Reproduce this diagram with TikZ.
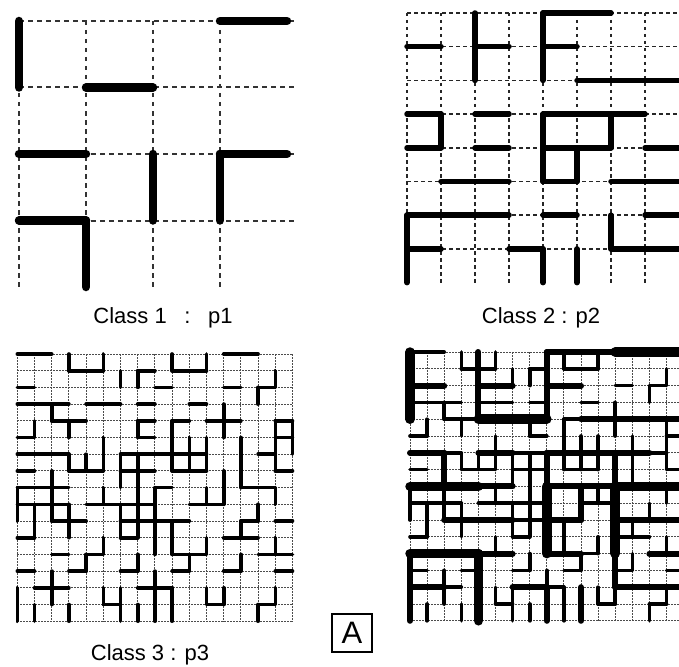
\documentclass[tikz,border=0pt]{standalone}
\usepackage{fontspec}
\setmainfont{Liberation Sans}
\begin{document}
\begin{tikzpicture}[x=1pt,y=-1pt]
\tikzset{
 g1/.style={line width=2pt, dash pattern=on 4.5pt off 4.5pt, black!80},
 g2/.style={line width=1.6pt, dash pattern=on 3.5pt off 3.5pt, black!85},
 g3/.style={line width=1pt, dash pattern=on 1.5pt off 1.5pt, black!70},
 s1/.style={line width=8.5pt, line cap=round},
 s2/.style={line width=5.5pt, line cap=round},
 s3/.style={line width=3.6pt, line cap=round},
 s1b/.style={line width=9.5pt, line cap=round},
 s2b/.style={line width=6pt, line cap=round},
 lab/.style={font=\fontsize{22}{25}\selectfont, anchor=base, inner sep=0pt},
}
\def\pone{0/0/0/1, 3/0/4/0, 1/1/2/1, 0/2/1/2, 2/2/2/3, 3/3/3/2, 3/2/4/2, 0/3/1/3, 1/3/1/4}
\def\ptwo{0/1/1/1, 2/0/2/2, 2/1/3/1, 0/3/1/3, 1/3/1/4, 0/4/1/4, 2/3/3/3, 2/4/3/4,
 4/0/4/2, 4/0/6/0, 4/1/5/1, 5/2/8/2, 4/3/7/3, 4/3/4/5, 6/3/6/4, 4/4/6/4, 5/4/5/5, 4/5/5/5,
 7/4/8/4, 1/5/3/5, 6/5/8/5, 0/6/3/6, 0/6/0/8, 0/7/1/7, 4/6/5/6, 6/6/6/7, 6/7/8/7, 7/6/8/6,
 3/7/4/7, 4/7/4/8, 5/7/5/8}
\def\pthree{0/0/2/0, 3/0/3/1, 3/1/5/1, 5/0/5/1,
 6/1/6/2, 7/1/7/2, 7/1/8/1,
 0/2/1/2, 8/2/9/2,
 0/3/3/3, 2/3/2/4, 2/4/4/4, 3/4/3/5,
 4/3/6/3, 7/3/8/3,
 1/4/1/5, 0/5/1/5,
 7/4/7/5, 7/4/8/4, 7/5/8/5,
 5/5/5/7,
 0/6/3/6, 3/6/3/7, 4/6/4/7, 3/7/5/7,
 6/6/8/6, 6/6/6/8, 7/6/7/8, 6/7/8/7,
 0/7/1/7, 2/7/2/8,
 0/8/3/8,
 9/0/9/1, 9/1/11/1, 11/0/11/1,
 12/0/14/0,
 15/1/15/2, 14/2/15/2, 14/2/14/3,
 12/2/13/2, 10/3/11/3,
 12/3/12/5, 11/4/13/4,
 9/4/10/4, 9/4/9/7, 10/5/10/7, 11/5/11/7, 8/6/11/6, 9/7/11/7,
 15/4/15/6, 16/4/16/6, 15/4/16/4, 15/5/16/5, 15/6/15/7, 15/7/16/7, 14/6/15/6,
 13/5/13/8, 13/8/15/8,
 12/7/12/8, 8/8/9/8,
 0/8/0/10, 0/9/3/9, 1/9/1/11, 2/8/2/10, 3/9/3/11, 2/10/4/10, 0/11/1/11,
 4/9/8/9, 5/8/5/9, 6/9/6/11, 7/8/7/11, 6/10/8/10, 6/11/7/11,
 5/11/5/12, 4/12/5/12, 4/12/4/13, 2/12/3/12, 0/13/1/13, 3/13/4/13,
 7/12/7/13, 6/13/7/13,
 0/14/0/16, 1/14/3/14, 2/13/2/15, 1/15/1/16, 3/15/3/16,
 5/14/5/15, 5/15/6/15, 6/14/6/16, 7/15/7/16, 7/14/8/14, 8/13/8/16,
 8/8/8/12,
 11/8/11/9, 10/9/12/9, 12/8/12/9,
 15/8/15/9,
 14/9/14/10, 13/10/14/10, 13/10/13/11, 12/11/14/11,
 8/10/10/10, 15/10/16/10,
 9/10/9/12, 11/11/11/12, 9/12/11/12, 10/12/10/13, 9/13/10/13,
 13/12/13/13, 12/13/13/13,
 14/12/16/12, 15/11/15/12, 15/13/16/13,
 9/14/9/16, 8/14/9/14,
 11/14/11/15, 11/15/12/15, 12/14/12/15,
 14/15/14/16, 14/15/15/15, 15/14/15/15}
\useasboundingbox (0,0) rectangle (679,666);
\clip (0,0) rectangle (679,666);
% Panel 1
\begin{scope}[shift={(19,21)}, xscale=67, yscale=66.5]
 \foreach \i in {0,...,3} {\draw[g1] (\i,0) -- (\i,4); \draw[g1] (0,\i) -- (4.1,\i);}
 \foreach \a/\b/\c/\d in \pone {\draw[s1] (\a,\b) -- (\c,\d);}
\end{scope}
% Panel 2
\begin{scope}[shift={(407,13)}, xscale=34, yscale=33.7]
 \foreach \i in {0,...,7} {\draw[g2] (\i,0) -- (\i,8.05); \draw[g2] (0,\i) -- (8.2,\i);}
 \foreach \a/\b/\c/\d in \ptwo {\draw[s2] (\a,\b) -- (\c,\d);}
\end{scope}
% Panel 3
\begin{scope}[shift={(17.3,354)}, xscale=17.2, yscale=16.7]
 \foreach \i in {0,...,16} {\draw[g3] (\i,0) -- (\i,16); \draw[g3] (0,\i) -- (16,\i);}
 \foreach \a/\b/\c/\d in \pthree {\draw[s3] (\a,\b) -- (\c,\d);}
\end{scope}
% Panel 4 (superposition)
\begin{scope}[shift={(410,352)}, xscale=17.1, yscale=16.8]
 \foreach \i in {0,...,16} {\draw[g3] (\i,0) -- (\i,16); \draw[g3] (0,\i) -- (16,\i);}
 \foreach \a/\b/\c/\d in \pthree {\draw[s3] (\a,\b) -- (\c,\d);}
 \foreach \a/\b/\c/\d in \ptwo {\draw[s2b] ({2*\a},{2*\b}) -- ({2*\c},{2*\d});}
 \foreach \a/\b/\c/\d in \pone {\draw[s1b] ({4*\a},{4*\b}) -- ({4*\c},{4*\d});}
\end{scope}
% Labels
\node[lab] (l1) at (163,323.5) {Class 1\hspace{0.8em}:\hspace{0.8em}p1};
\node[lab] (l2) at (541,323.5) {Class 2 : p2};
\node[lab] (l3) at (150,660) {Class 3 : p3};
\node[draw, line width=1.8pt, minimum width=40pt, minimum height=38pt, inner sep=0pt,
 font=\fontsize{31}{31}\selectfont] (boxA) at (352,633) {A};
\end{tikzpicture}
\end{document}
